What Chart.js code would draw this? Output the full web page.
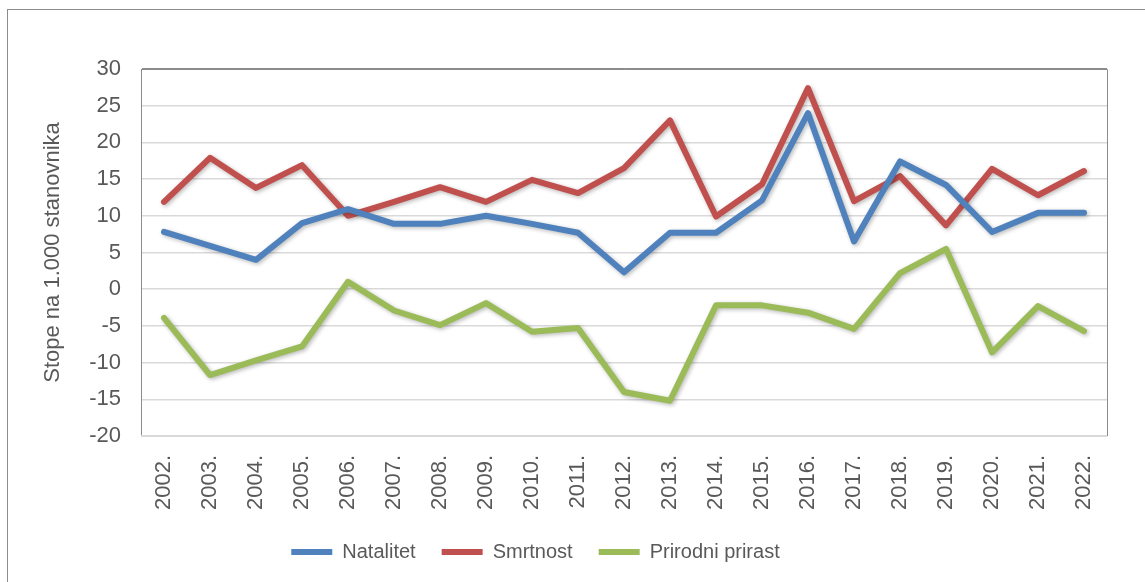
<!DOCTYPE html>
<html>
<head>
<meta charset="utf-8">
<script src="https://cdn.jsdelivr.net/npm/chart.js@4/dist/chart.umd.min.js"></script>
<style>
  html, body { margin: 0; padding: 0; background: #ffffff; overflow: hidden; }
  #frame { position: absolute; left: 7px; top: 9px; width: 1200px; height: 640px; border: 1px solid #8c8c8c; }
  #wrap { position: absolute; left: 0; top: 0; width: 1145px; height: 582px; }
</style>
</head>
<body>
<div id="frame"></div>
<div id="wrap"><canvas id="c" width="1145" height="582"></canvas></div>
<script>
const years = ['2002.','2003.','2004.','2005.','2006.','2007.','2008.','2009.','2010.','2011.','2012.','2013.','2014.','2015.','2016.','2017.','2018.','2019.','2020.','2021.','2022.'];
const natalitet = [7.8, 5.9, 4.0, 9.0, 10.9, 8.9, 8.9, 10.0, 8.9, 7.7, 2.3, 7.7, 7.7, 12.1, 24.0, 6.5, 17.4, 14.2, 7.8, 10.4, 10.4];
const smrtnost = [11.9, 17.9, 13.8, 16.9, 10.0, 11.9, 13.9, 11.9, 14.9, 13.1, 16.5, 23.0, 9.9, 14.3, 27.4, 12.0, 15.4, 8.7, 16.4, 12.8, 16.1];
const prirast = [-3.9, -11.7, -9.7, -7.8, 1.0, -2.9, -4.9, -1.9, -5.8, -5.3, -14.0, -15.2, -2.2, -2.2, -3.2, -5.4, 2.2, 5.5, -8.6, -2.3, -5.7];
const seriesNames = ['Natalitet', 'Smrtnost', 'Prirodni prirast'];
const yTitle = 'Stope na 1.000 stanovnika';

const FONT = '"Liberation Sans", Arial, sans-serif';
const TXT = '#595959';

const shadowPlugin = {
  id: 'shadow',
  beforeDatasetDraw(chart) {
    const ctx = chart.ctx;
    ctx.save();
    ctx.shadowColor = 'rgba(0,0,0,0.28)';
    ctx.shadowBlur = 4;
    ctx.shadowOffsetX = 1.5;
    ctx.shadowOffsetY = 1.5;
  },
  afterDatasetDraw(chart) {
    chart.ctx.restore();
  }
};

const borderPlugin = {
  id: 'plotBorder',
  beforeDatasetsDraw(chart) {
    const {ctx, chartArea: a} = chart;
    ctx.save();
    ctx.strokeStyle = '#d9d9d9';
    ctx.lineWidth = 2;
    ctx.beginPath();
    ctx.moveTo(a.left, a.bottom);
    ctx.lineTo(a.right, a.bottom);
    ctx.stroke();
    ctx.strokeStyle = '#8c8c8c';
    ctx.lineWidth = 1;
    ctx.beginPath();
    ctx.moveTo(a.left + 0.5, a.top + 0.5);
    ctx.lineTo(a.right + 0.5, a.top + 0.5);
    ctx.lineTo(a.right + 0.5, a.bottom);
    ctx.stroke();
    ctx.restore();
  }
};

const legendShift = {
  id: 'legendShift',
  afterLayout(chart) {
    const l = chart.legend;
    if (l) { l.left -= 18; l.right -= 18; }
  }
};

function ds(label, data, color) {
  return {
    label, data,
    borderColor: color,
    backgroundColor: color,
    borderWidth: 6,
    borderCapStyle: 'round',
    borderJoinStyle: 'round',
    pointRadius: 0,
    pointHoverRadius: 0,
    tension: 0
  };
}

new Chart(document.getElementById('c'), {
  type: 'line',
  data: {
    labels: years,
    datasets: [
      ds(seriesNames[0], natalitet, '#4f81bd'),
      ds(seriesNames[1], smrtnost, '#c0504d'),
      ds(seriesNames[2], prirast, '#9bbb59')
    ]
  },
  plugins: [shadowPlugin, borderPlugin, legendShift],
  options: {
    responsive: false,
    animation: false,
    devicePixelRatio: 1,
    layout: { padding: { left: 0, top: 69, right: 38, bottom: 10 } },
    plugins: {
      tooltip: { enabled: false },
      legend: {
        position: 'bottom',
        labels: {
          usePointStyle: true,
          pointStyle: 'line',
          pointStyleWidth: 41,
          boxHeight: 20,
          padding: 26,
          color: TXT,
          font: { family: FONT, size: 20 }
        }
      }
    },
    scales: {
      x: {
        offset: true,
        grid: { display: false, drawTicks: false },
        border: { display: false },
        ticks: {
          color: TXT,
          font: { family: FONT, size: 22 },
          maxRotation: 90,
          minRotation: 90,
          padding: 19,
          autoSkip: false
        },
        afterFit(scale) { scale.height = 80; }
      },
      y: {
        min: -20,
        max: 30,
        ticks: {
          stepSize: 5,
          color: TXT,
          font: { family: FONT, size: 22 },
          padding: 20
        },
        grid: {
          drawTicks: false,
          lineWidth: 1.5,
          color: (c) => c.tick && c.tick.value === 30 ? '#8c8c8c' : '#d9d9d9'
        },
        border: { display: true, color: '#8c8c8c', width: 1 },
        title: {
          display: true,
          text: yTitle,
          color: TXT,
          font: { family: FONT, size: 22 },
          padding: { top: 40, bottom: 0 }
        },
        afterFit(scale) { scale.width = 141; }
      }
    }
  }
});
</script>
</body>
</html>
